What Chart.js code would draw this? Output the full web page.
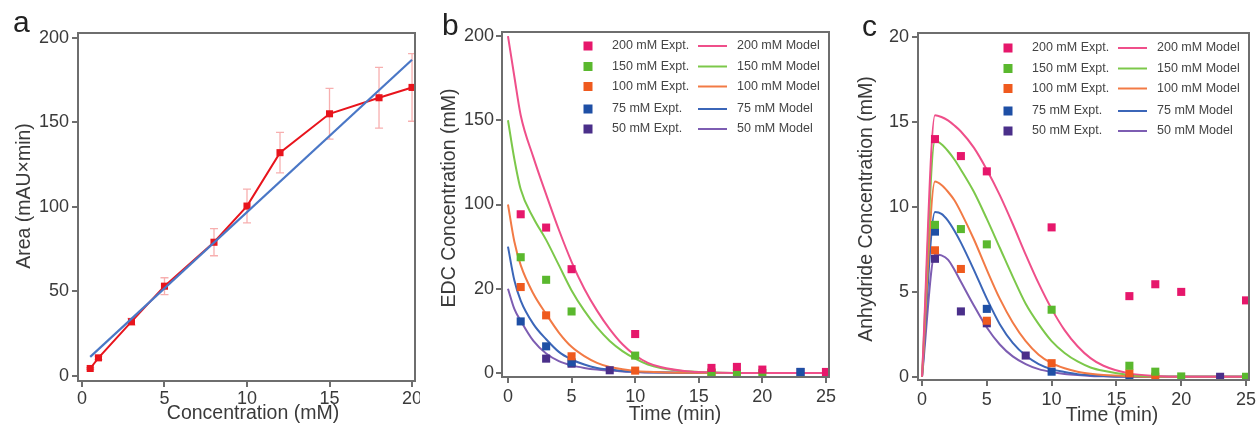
<!DOCTYPE html>
<html>
<head>
<meta charset="utf-8">
<script src="https://cdn.jsdelivr.net/npm/chart.js@4.4.0/dist/chart.umd.min.js"></script>
<style>
  body { margin: 0; background: #fff; width: 1259px; height: 425px; overflow: hidden; position: relative; }
  canvas { position: absolute; top: 0; }
</style>
</head>
<body>
<canvas id="chartA" width="420" height="425" style="left:0px"></canvas>
<canvas id="chartB" width="420" height="425" style="left:420px"></canvas>
<canvas id="chartC" width="419" height="425" style="left:840px"></canvas>
<script>
// ---- panel a: calibration ----
const concA = [0.5, 1, 3, 5, 8, 10, 12, 15, 18, 20];
const areaA = [4.3, 10.6, 32, 53, 79, 100.4, 132, 155, 164.5, 170.6];
const areaErrA = [0.5, 1, 2, 5, 8, 10, 12, 15, 18, 20];
const fitConcA = [0.5, 20];
const fitAreaA = [11.2, 187];
const xTicksA = [0, 5, 10, 15, 20];
const yTicksA = [0, 50, 100, 150, 200];

// ---- panels b, c ----
const seriesNames = ['200 mM', '150 mM', '100 mM', '75 mM', '50 mM'];
const timeTicks = [0, 5, 10, 15, 20, 25];
const yTicksB = [0, 50, 100, 150, 200];
const yTickLabelsB = ['0', '20', '100', '150', '200'];
const yTicksC = [0, 5, 10, 15, 20];

// EDC measured [time, mM]
const edcExpt200 = [[1, 94.2], [3, 86.3], [5, 61.6], [10, 23.1], [16, 3], [18, 3.6], [20, 2], [25, 0.6]];
const edcExpt150 = [[1, 68.7], [3, 55.3], [5, 36.5], [10, 10.3], [16, 0.2], [18, 0], [20, 0]];
const edcExpt100 = [[1, 51], [3, 34.2], [5, 9.9], [10, 1.4], [16, 0.2]];
const edcExpt75 = [[1, 30.6], [3, 15.8], [5, 6.3], [23, 0.6]];
const edcExpt50 = [[3, 8.5], [5, 5.5], [8, 1.6], [23, 0.6]];

// EDC model
const modelTimeB = [0, 0.5, 1, 2, 3, 4, 5, 6, 7, 8, 9, 10, 11, 12, 14, 16, 20, 25];
const edcModel200 = [200, 176, 153, 128, 106, 85, 66, 50, 37, 26, 17, 10.5, 6, 3.5, 1, 0.3, 0, 0];
const edcModel150 = [150, 127, 109, 92, 79, 64, 49, 37, 27, 19, 13, 8.5, 5, 3, 1, 0.3, 0, 0];
const edcModel100 = [100, 78, 64, 47, 35, 24, 15.5, 10, 6, 3.5, 2.2, 1.2, 0.7, 0.4, 0.1, 0, 0, 0];
const edcModel75 = [75, 55, 43, 29, 20, 12.5, 8, 5, 3, 2, 1.2, 0.7, 0.4, 0.2, 0.05, 0, 0, 0];
const edcModel50 = [50, 38, 31, 19, 11.5, 7, 4.5, 3, 2, 1.4, 0.9, 0.6, 0.3, 0.2, 0.05, 0, 0, 0];

// anhydride measured [time, mM]
const anhExpt200 = [[1, 14.0], [3, 13.0], [5, 12.1], [10, 8.8], [16, 4.75], [18, 5.45], [20, 5.0], [25, 4.5]];
const anhExpt150 = [[1, 8.95], [3, 8.7], [5, 7.8], [10, 3.95], [16, 0.65], [18, 0.3], [20, 0.02], [25, 0]];
const anhExpt100 = [[1, 7.45], [3, 6.35], [5, 3.3], [10, 0.8], [16, 0.2], [18, 0]];
const anhExpt75 = [[1, 8.55], [5, 4.0], [10, 0.3], [16, -0.1]];
const anhExpt50 = [[1, 6.95], [3, 3.85], [5, 3.15], [8, 1.25], [23, 0]];

// anhydride model
const modelTimeC = [0, 1, 1.5, 2, 2.5, 3, 4, 5, 6, 7, 8, 9, 10, 11, 12, 13, 14, 16, 18, 20, 25];
const anhModel200 = [0, 15.4, 15.3, 15.1, 14.8, 14.45, 13.5, 12.2, 10.7, 9.0, 7.2, 5.5, 4.0, 2.75, 1.8, 1.1, 0.65, 0.2, 0.05, 0, 0];
const anhModel150 = [0, 13.9, 13.7, 13.3, 12.8, 12.2, 10.9, 9.3, 7.6, 5.9, 4.3, 3.1, 2.1, 1.4, 0.9, 0.55, 0.35, 0.1, 0.02, 0, 0];
const anhModel100 = [0, 11.5, 11.3, 10.9, 10.4, 9.7, 8.1, 6.3, 4.6, 3.2, 2.1, 1.3, 0.8, 0.5, 0.3, 0.18, 0.1, 0.03, 0, 0, 0];
const anhModel75 = [0, 9.7, 9.6, 9.2, 8.6, 7.9, 6.3, 4.6, 3.1, 2.0, 1.25, 0.75, 0.45, 0.28, 0.15, 0.09, 0.05, 0.01, 0, 0, 0];
const anhModel50 = [0, 7.2, 7.15, 6.9, 6.3, 5.6, 4.2, 2.9, 1.9, 1.2, 0.75, 0.45, 0.28, 0.17, 0.1, 0.05, 0.03, 0, 0, 0, 0];

const exptColors = ['#e6176b', '#5ab82e', '#ef5a1e', '#1e4fa5', '#4a2f8a'];
const modelColors = ['#ef4f8a', '#7cc84a', '#f27a45', '#3b66b8', '#7d5db2'];
const textColor = '#3a3a3a';
const frameColor = '#6e6e6e';
const fontFamily = '"Liberation Sans", Arial, sans-serif';

Chart.defaults.font.family = fontFamily;

function pairs(xs, ys) {
    return xs.map((x, i) => ({ x: x, y: ys[i] }));
}

function makeAxis(o) {
    return {
        type: 'linear',
        min: o.min,
        max: o.max,
        afterBuildTicks: s => { s.ticks = o.ticks.map(v => ({ value: v })); },
        afterFit: s => {
            if (s.isHorizontal()) {
                s.height = o.size; s.paddingLeft = 0; s.paddingRight = 0;
            } else {
                s.width = o.size; s.paddingTop = 0; s.paddingBottom = 0;
            }
        },
        ticks: {
            color: textColor, font: { size: 18 }, padding: o.pad,
            autoSkip: false, maxRotation: 0,
            callback: (v, i) => (o.labels ? o.labels[i] : String(v))
        },
        grid: { drawOnChartArea: false, drawTicks: true, tickLength: 6, color: frameColor, lineWidth: 2 },
        border: { display: false }
    };
}

// box round the plot area
const frame = {
    id: 'frame',
    afterDatasetsDraw(chart) {
        const a = chart.chartArea, ctx = chart.ctx;
        ctx.save();
        ctx.strokeStyle = frameColor;
        ctx.lineWidth = 2;
        ctx.strokeRect(a.left, a.top, a.right - a.left, a.bottom - a.top);
        ctx.restore();
    }
};

// panel letter and axis titles
const panelText = {
    id: 'panelText',
    afterDraw(chart, args, opts) {
        const ctx = chart.ctx;
        ctx.save();
        ctx.fillStyle = '#222';
        ctx.font = '30px ' + fontFamily;
        ctx.textBaseline = 'alphabetic';
        ctx.fillText(opts.letter, opts.letterX, opts.letterY);
        ctx.fillStyle = textColor;
        ctx.font = '19.5px ' + fontFamily;
        ctx.textAlign = 'center';
        ctx.textBaseline = 'middle';
        ctx.fillText(opts.xTitle, opts.xTitleX, opts.xTitleY);
        ctx.translate(opts.yTitleX, opts.yTitleY);
        ctx.rotate(-Math.PI / 2);
        ctx.fillText(opts.yTitle, 0, 0);
        ctx.restore();
    }
};

// error bars for panel a
const errorBars = {
    id: 'errorBars',
    beforeDatasetsDraw(chart) {
        const ctx = chart.ctx, xs = chart.scales.x, ys = chart.scales.y;
        ctx.save();
        ctx.strokeStyle = 'rgba(240, 110, 110, 0.55)';
        ctx.lineWidth = 1.3;
        chart.data.datasets.forEach(ds => {
            if (!ds.errors) return;
            ds.data.forEach((p, i) => {
                const e = ds.errors[i];
                const x = xs.getPixelForValue(p.x);
                const y1 = ys.getPixelForValue(p.y - e), y2 = ys.getPixelForValue(p.y + e);
                ctx.beginPath();
                ctx.moveTo(x, y1); ctx.lineTo(x, y2);
                ctx.moveTo(x - 4, y1); ctx.lineTo(x + 4, y1);
                ctx.moveTo(x - 4, y2); ctx.lineTo(x + 4, y2);
                ctx.stroke();
            });
        });
        ctx.restore();
    }
};

// two column legend inside the plot area
const gridLegend = {
    id: 'gridLegend',
    afterDatasetsDraw(chart, args, opts) {
        const ctx = chart.ctx, a = chart.chartArea;
        const rows = [14, 34.5, 54.5, 77, 97];
        ctx.save();
        ctx.font = '12.5px ' + fontFamily;
        ctx.textBaseline = 'middle';
        ctx.fillStyle = '#444';
        let e = 0, m = 0;
        chart.data.datasets.forEach(ds => {
            if (ds.role === 'expt') {
                const y = a.top + rows[e++] + opts.dy;
                ctx.fillStyle = ds.backgroundColor;
                ctx.fillRect(a.right - 245.5, y - 4.5, 9, 9);
                ctx.fillStyle = '#444';
                ctx.fillText(ds.label, a.right - 217, y);
            } else if (ds.role === 'model') {
                const y = a.top + rows[m++] + opts.dy;
                ctx.strokeStyle = ds.borderColor;
                ctx.lineWidth = 2;
                ctx.beginPath();
                ctx.moveTo(a.right - 131, y); ctx.lineTo(a.right - 102, y);
                ctx.stroke();
                ctx.fillStyle = '#444';
                ctx.fillText(ds.label, a.right - 92, y);
            }
        });
        ctx.restore();
    }
};

function kineticsDatasets(expt, modelTime, model) {
    const sets = [];
    expt.forEach((pts, i) => {
        sets.push({
            role: 'expt', label: seriesNames[i] + ' Expt.',
            data: pts.map(p => ({ x: p[0], y: p[1] })),
            pointStyle: 'rect', pointRadius: 5.7, borderWidth: 0,
            backgroundColor: exptColors[i], borderColor: exptColors[i], order: 0
        });
    });
    model.forEach((vals, i) => {
        sets.push({
            role: 'model', label: seriesNames[i] + ' Model',
            data: pairs(modelTime, vals), showLine: true, pointRadius: 0,
            borderColor: modelColors[i], backgroundColor: modelColors[i],
            borderWidth: 2, cubicInterpolationMode: 'monotone', order: 1
        });
    });
    return sets;
}

new Chart(document.getElementById('chartA'), {
    type: 'scatter',
    data: {
        datasets: [
            {
                data: pairs(fitConcA, fitAreaA), showLine: true, pointRadius: 0,
                borderColor: '#4a77c6', borderWidth: 2.2, order: 0
            },
            {
                data: pairs(concA, areaA), errors: areaErrA, showLine: true,
                borderColor: '#e8141c', backgroundColor: '#e8141c', borderWidth: 2,
                pointStyle: 'rect', pointRadius: 5, pointBorderWidth: 0, order: 1
            }
        ]
    },
    options: {
        responsive: false, animation: false, devicePixelRatio: 1,
        layout: { padding: { top: 33, right: 5, left: 0, bottom: 0 } },
        plugins: {
            legend: { display: false }, tooltip: { enabled: false },
            panelText: { letter: 'a', letterX: 13, letterY: 32, xTitle: 'Concentration (mM)', xTitleX: 253, xTitleY: 414, yTitle: 'Area (mAU×min)', yTitleX: 24.5, yTitleY: 196 }
        },
        scales: {
            x: makeAxis({ min: -0.24, max: 20.18, ticks: xTicksA, size: 44, pad: 1 }),
            y: makeAxis({ min: -3.1, max: 202.8, ticks: yTicksA, size: 78, pad: 3 })
        }
    },
    plugins: [errorBars, frame, panelText]
});

new Chart(document.getElementById('chartB'), {
    type: 'scatter',
    data: {
        datasets: kineticsDatasets(
            [edcExpt200, edcExpt150, edcExpt100, edcExpt75, edcExpt50],
            modelTimeB,
            [edcModel200, edcModel150, edcModel100, edcModel75, edcModel50]
        )
    },
    options: {
        responsive: false, animation: false, devicePixelRatio: 1,
        layout: { padding: { top: 32, right: 11, left: 0, bottom: 0 } },
        plugins: {
            legend: { display: false }, tooltip: { enabled: false },
            panelText: { letter: 'b', letterX: 22, letterY: 35, xTitle: 'Time (min)', xTitleX: 255, xTitleY: 415, yTitle: 'EDC Concentration (mM)', yTitleX: 30, yTitleY: 198 },
            gridLegend: { dy: 0 }
        },
        scales: {
            x: makeAxis({ min: -0.47, max: 25.24, ticks: timeTicks, size: 48, pad: 3 }),
            y: makeAxis({ min: -2.4, max: 202.4, ticks: yTicksB, labels: yTickLabelsB, size: 82, pad: 2 })
        }
    },
    plugins: [frame, panelText, gridLegend]
});

new Chart(document.getElementById('chartC'), {
    type: 'scatter',
    data: {
        datasets: kineticsDatasets(
            [anhExpt200, anhExpt150, anhExpt100, anhExpt75, anhExpt50],
            modelTimeC,
            [anhModel200, anhModel150, anhModel100, anhModel75, anhModel50]
        )
    },
    options: {
        responsive: false, animation: false, devicePixelRatio: 1,
        layout: { padding: { top: 33, right: 10, left: 0, bottom: 0 } },
        plugins: {
            legend: { display: false }, tooltip: { enabled: false },
            panelText: { letter: 'c', letterX: 22, letterY: 36, xTitle: 'Time (min)', xTitleX: 272, xTitleY: 416, yTitle: 'Anhydride Concentration (mM)', yTitleX: 26.5, yTitleY: 209 },
            gridLegend: { dy: 1 }
        },
        scales: {
            x: makeAxis({ min: -0.31, max: 25.23, ticks: timeTicks, size: 45, pad: 3 }),
            y: makeAxis({ min: -0.19, max: 20.25, ticks: yTicksC, size: 78, pad: 3 })
        }
    },
    plugins: [frame, panelText, gridLegend]
});
</script>
</body>
</html>
